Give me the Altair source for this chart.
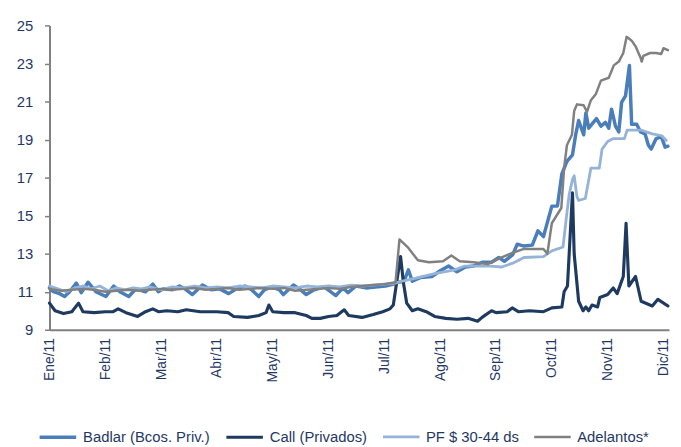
import altair as alt
import pandas as pd

months = ["Ene/11", "Feb/11", "Mar/11", "Abr/11", "May/11", "Jun/11",
          "Jul/11", "Ago/11", "Sep/11", "Oct/11", "Nov/11", "Dic/11"]

series_names = ["Badlar (Bcos. Priv.)", "Call (Privados)", "PF $ 30-44 ds", "Adelantos*"]
series_colors = ["#4a7ebb", "#1f3a60", "#95b3d7", "#808080"]
series_widths = [3.5, 2.5, 4.5, 2.5]

# (month position, rate %)
badlar = [(0.0, 11.2), (0.07, 11.0), (0.18, 10.9), (0.27, 10.75), (0.36, 11.0), (0.48, 11.45),
          (0.57, 10.95), (0.69, 11.5), (0.83, 11.0), (1.01, 10.75), (1.15, 11.3), (1.26, 11.0),
          (1.42, 10.75), (1.55, 11.15), (1.72, 11.0), (1.85, 11.4), (1.95, 11.0), (2.04, 11.15),
          (2.2, 11.1), (2.33, 11.3), (2.45, 11.1), (2.56, 10.85), (2.74, 11.35), (2.9, 11.1),
          (3.05, 11.15), (3.21, 10.9), (3.35, 11.15), (3.5, 11.3), (3.62, 11.1), (3.75, 10.75),
          (3.85, 11.1), (3.98, 11.25), (4.12, 11.1), (4.19, 10.85), (4.37, 11.35), (4.5, 11.1),
          (4.6, 10.85), (4.74, 11.1), (4.92, 11.25), (5.13, 10.8), (5.26, 11.2), (5.35, 10.95),
          (5.49, 11.3), (5.67, 11.2), (5.84, 11.25), (6.02, 11.3), (6.16, 11.4), (6.25, 11.5),
          (6.35, 11.55), (6.43, 12.15), (6.5, 11.55), (6.65, 11.75), (6.85, 11.8), (7.0, 12.1),
          (7.15, 12.35), (7.3, 12.05), (7.45, 12.3), (7.6, 12.35), (7.75, 12.55), (7.92, 12.55),
          (8.05, 12.8), (8.15, 12.6), (8.3, 12.95), (8.38, 13.5), (8.5, 13.4), (8.65, 13.45),
          (8.75, 14.2), (8.85, 13.9), (8.93, 14.75), (9.0, 15.5), (9.1, 15.5), (9.18, 17.2),
          (9.27, 17.85), (9.37, 18.2), (9.43, 19.3), (9.48, 20.0), (9.57, 19.25), (9.61, 20.4),
          (9.66, 19.6), (9.8, 20.1), (9.88, 19.7), (9.96, 19.9), (10.02, 19.6), (10.07, 20.6),
          (10.14, 19.7), (10.2, 19.4), (10.25, 20.96), (10.32, 21.3), (10.39, 22.9), (10.43, 19.8),
          (10.52, 19.8), (10.59, 19.4), (10.67, 19.3), (10.73, 18.7), (10.78, 18.5), (10.87, 19.05),
          (10.96, 19.15), (11.03, 18.6), (11.08, 18.65)]

call = [(0.0, 10.4), (0.1, 10.0), (0.25, 9.85), (0.4, 9.95), (0.52, 10.4), (0.6, 9.95),
        (0.8, 9.9), (1.0, 9.95), (1.14, 9.95), (1.23, 10.1), (1.37, 9.9), (1.58, 9.7),
        (1.72, 9.95), (1.85, 10.1), (1.95, 9.95), (2.1, 10.0), (2.3, 9.95), (2.45, 10.05),
        (2.7, 9.95), (3.0, 9.95), (3.2, 9.9), (3.3, 9.7), (3.55, 9.65), (3.75, 9.75),
        (3.88, 9.9), (3.93, 10.3), (4.0, 9.95), (4.2, 9.9), (4.4, 9.9), (4.6, 9.75),
        (4.7, 9.6), (4.85, 9.6), (5.0, 9.7), (5.15, 9.75), (5.28, 10.05), (5.36, 9.75),
        (5.6, 9.65), (5.8, 9.8), (5.97, 9.95), (6.1, 10.1), (6.16, 10.3), (6.22, 11.5),
        (6.29, 12.85), (6.34, 11.5), (6.4, 10.4), (6.5, 10.0), (6.6, 10.1), (6.75, 9.95),
        (6.9, 9.7), (7.1, 9.6), (7.3, 9.55), (7.5, 9.6), (7.67, 9.45), (7.75, 9.65),
        (7.92, 10.0), (8.0, 9.9), (8.2, 9.95), (8.29, 10.15), (8.4, 9.95), (8.6, 10.0),
        (8.85, 9.95), (9.0, 10.15), (9.18, 10.2), (9.22, 11.0), (9.28, 11.3), (9.32, 13.5),
        (9.37, 16.2), (9.40, 13.0), (9.48, 10.5), (9.56, 10.0), (9.61, 10.2), (9.66, 10.0),
        (9.72, 10.3), (9.82, 10.2), (9.86, 10.7), (10.0, 10.85), (10.1, 11.2), (10.17, 10.9),
        (10.28, 11.8), (10.33, 14.6), (10.38, 11.3), (10.5, 11.8), (10.6, 10.5), (10.8, 10.25),
        (10.9, 10.6), (11.08, 10.25)]

pf = [(0.0, 11.3), (0.15, 11.15), (0.3, 11.0), (0.45, 11.2), (0.6, 11.3), (0.75, 11.15),
      (0.9, 11.3), (1.05, 11.05), (1.2, 11.2), (1.35, 11.1), (1.5, 11.2), (1.65, 11.15),
      (1.8, 11.25), (2.0, 11.1), (2.2, 11.25), (2.4, 11.2), (2.6, 11.3), (2.8, 11.2),
      (3.0, 11.25), (3.2, 11.2), (3.4, 11.3), (3.6, 11.25), (3.8, 11.2), (4.0, 11.3),
      (4.2, 11.25), (4.4, 11.2), (4.6, 11.3), (4.8, 11.25), (5.0, 11.3), (5.2, 11.25),
      (5.4, 11.35), (5.6, 11.3), (5.8, 11.35), (6.0, 11.4), (6.2, 11.45), (6.3, 11.55),
      (6.55, 11.7), (6.9, 11.95), (7.26, 12.15), (7.44, 12.35), (7.9, 12.35), (8.1, 12.3),
      (8.3, 12.5), (8.5, 12.8), (8.85, 12.85), (9.0, 13.15), (9.2, 13.35), (9.26, 14.9),
      (9.31, 16.1), (9.37, 16.9), (9.40, 17.1), (9.45, 16.0), (9.48, 15.8), (9.6, 15.9),
      (9.7, 17.5), (9.85, 17.5), (9.9, 18.5), (10.0, 18.9), (10.1, 19.05), (10.3, 19.05),
      (10.35, 19.5), (10.6, 19.5), (10.8, 19.3), (10.97, 19.2), (11.05, 18.95)]

adelantos = [(0.0, 11.15), (0.2, 11.05), (0.4, 11.1), (0.6, 11.15), (0.8, 11.1), (1.0, 11.0),
             (1.2, 11.05), (1.4, 11.1), (1.6, 11.05), (1.8, 11.1), (2.0, 11.15), (2.2, 11.1),
             (2.4, 11.15), (2.6, 11.2), (2.8, 11.1), (3.0, 11.15), (3.2, 11.2), (3.4, 11.1),
             (3.6, 11.15), (3.8, 11.2), (4.0, 11.15), (4.2, 11.2), (4.4, 11.05), (4.6, 11.1),
             (4.8, 11.15), (5.0, 11.2), (5.2, 11.15), (5.4, 11.25), (5.6, 11.3), (5.8, 11.35),
             (6.0, 11.4), (6.2, 11.5), (6.27, 13.75), (6.43, 13.3), (6.6, 12.65), (6.8, 12.55),
             (7.05, 12.6), (7.2, 12.9), (7.35, 12.6), (7.6, 12.55), (7.85, 12.45), (8.1, 12.8),
             (8.3, 13.05), (8.5, 13.25), (8.85, 13.25), (8.92, 13.0), (9.0, 14.6), (9.17, 15.4),
             (9.22, 17.5), (9.27, 18.7), (9.36, 19.25), (9.40, 20.5), (9.45, 20.85), (9.57, 20.8),
             (9.63, 20.45), (9.70, 21.07), (9.79, 21.4), (9.88, 22.1), (10.02, 22.25), (10.11, 22.9),
             (10.2, 23.1), (10.28, 23.55), (10.34, 24.4), (10.43, 24.2), (10.5, 23.9), (10.59, 23.3),
             (10.61, 23.1), (10.64, 23.4), (10.76, 23.55), (10.87, 23.55), (10.96, 23.5), (11.0, 23.8),
             (11.08, 23.7)]

frames = []
for name, pts in zip(series_names, [badlar, call, pf, adelantos]):
    frames.append(pd.DataFrame({"m": [p[0] for p in pts], "v": [p[1] for p in pts], "serie": name}))
df = pd.concat(frames, ignore_index=True)

label_color = "#1f3864"
axis_gray = "#808080"
font = "Liberation Sans"
month_expr = "[" + ",".join("'%s'" % m for m in months) + "][datum.value]"

chart = alt.Chart(df).mark_line(strokeJoin="round", strokeCap="round").encode(
    x=alt.X("m:Q",
            scale=alt.Scale(domain=[0, 11.1], nice=False, zero=False),
            axis=alt.Axis(values=list(range(12)), labelExpr=month_expr, labelAngle=-90,
                          labelAlign="right", labelBaseline="middle", ticks=False, grid=False,
                          title=None, domainColor=axis_gray, domainWidth=2,
                          labelColor=label_color, labelFontSize=14, labelFont=font,
                          labelPadding=8, labelOverlap=False)),
    y=alt.Y("v:Q",
            scale=alt.Scale(domain=[9, 25], nice=False, zero=False),
            axis=alt.Axis(values=list(range(9, 26, 2)), grid=False, title=None,
                          domainColor=axis_gray, domainWidth=2, tickColor=axis_gray,
                          tickSize=5, tickWidth=1.5, labelColor=label_color, labelFontSize=15,
                          labelFont=font, labelPadding=12)),
    color=alt.Color("serie:N",
                    scale=alt.Scale(domain=series_names, range=series_colors),
                    legend=alt.Legend(title=None, orient="none", legendX=-12, legendY=396,
                                      direction="horizontal", symbolType="stroke",
                                      symbolSize=1369, symbolStrokeWidth=1.5,
                                      labelFontSize=15, labelFont=font, labelColor=label_color,
                                      columnPadding=9, labelOffset=5)),
    strokeWidth=alt.StrokeWidth("serie:N",
                                scale=alt.Scale(domain=series_names, range=series_widths),
                                legend=None),
).properties(
    width=627, height=308,
    autosize=alt.AutoSizeParams(type="none"),
    padding={"left": 42, "top": 15, "right": 4, "bottom": 115},
).configure_view(stroke=None)

chart.save("out.html", embed_options={"renderer": "svg", "actions": False})
